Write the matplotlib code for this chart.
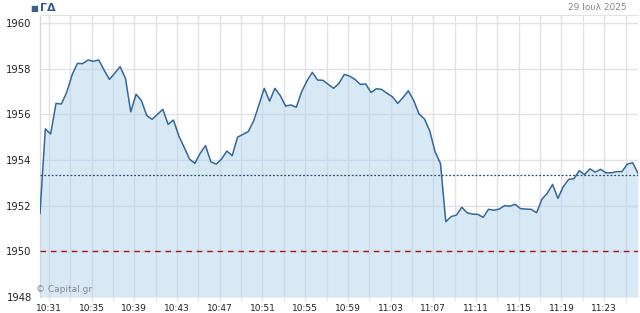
import numpy as np
import pandas as pd
import matplotlib
matplotlib.use("Agg")
import matplotlib.pyplot as plt
import matplotlib.dates as mdates

values = [
    1951.66, 1955.36, 1955.14, 1956.48, 1956.45, 1956.96, 1957.72, 1958.23, 1958.22, 1958.38,
    1958.32, 1958.38, 1957.94, 1957.53, 1957.80, 1958.09, 1957.58, 1956.11, 1956.88, 1956.60,
    1955.94, 1955.78, 1956.00, 1956.22, 1955.56, 1955.75, 1955.05, 1954.56, 1954.04, 1953.85,
    1954.29, 1954.63, 1953.92, 1953.82, 1954.04, 1954.39, 1954.19, 1955.00, 1955.12, 1955.24,
    1955.70, 1956.41, 1957.14, 1956.58, 1957.14, 1956.82, 1956.36, 1956.41, 1956.31, 1956.99,
    1957.46, 1957.84, 1957.50, 1957.49, 1957.31, 1957.14, 1957.36, 1957.75, 1957.67, 1957.53,
    1957.31, 1957.33, 1956.96, 1957.12, 1957.09, 1956.92, 1956.77, 1956.48, 1956.74, 1957.03,
    1956.60, 1956.01, 1955.80, 1955.27, 1954.36, 1953.85, 1951.30, 1951.52, 1951.59, 1951.93,
    1951.69, 1951.63, 1951.62, 1951.49, 1951.84, 1951.80, 1951.85, 1952.00, 1951.98, 1952.06,
    1951.87, 1951.85, 1951.84, 1951.69, 1952.28, 1952.54, 1952.93, 1952.32, 1952.83, 1953.15,
    1953.18, 1953.53, 1953.36, 1953.61, 1953.47, 1953.59, 1953.44, 1953.44, 1953.49, 1953.49,
    1953.82, 1953.88, 1953.42,
]
times = pd.date_range("2025-07-29 10:30:10", periods=len(values), freq="30s")

prev_close = 1953.33
support = 1950.0
title = "ΓΔ"
date_label = "29 Ιουλ 2025"
yticks = [1948, 1950, 1952, 1954, 1956, 1958, 1960]

fig = plt.figure(figsize=(6.4, 3.13), dpi=100)
ax = fig.add_axes([40 / 640, 1 - 297 / 313, 598 / 640, 282 / 313])

ax.fill_between(times, values, 1948, color=(174 / 255, 209 / 255, 238 / 255), alpha=0.48,
                lw=0, zorder=3)
ax.plot(times, values, color="#33679c", lw=1.1, zorder=4)
ax.axhline(prev_close, color="#2c4a6e", lw=0.9, ls=(0, (1.5, 1.5)), zorder=5)
ax.axhline(support, color="#b01010", lw=1.0, ls=(0, (4, 3.5)), zorder=5)

ax.set_xlim(times[0], times[-1])
ax.set_ylim(1948, 1960.35)
ax.set_yticks(yticks)
ax.set_yticklabels([str(v) for v in yticks])

ax.xaxis.set_major_locator(mdates.MinuteLocator(byminute=range(3, 60, 4)))
ax.xaxis.set_minor_locator(mdates.MinuteLocator(byminute=range(1, 60, 2)))
ax.xaxis.set_major_formatter(mdates.DateFormatter("%H:%M"))

ax.grid(True, which="both", axis="x", color="#e2e2e2", lw=1.0, zorder=1)
ax.grid(True, which="major", axis="y", color="#e2e2e2", lw=1.0, zorder=1)
ax.set_axisbelow(True)

for s in ["right", "bottom"]:
    ax.spines[s].set_visible(False)
ax.spines["top"].set_color("#e2e2e2")
ax.spines["left"].set_color("#d8d8d8")
ax.spines["left"].set_linewidth(1.0)

ax.tick_params(axis="y", length=0, pad=6, labelsize=7.2, labelcolor="#222222")
ax.tick_params(axis="x", which="both", length=3, color="#dddddd", labelsize=6.5,
               labelcolor="#222222", pad=2)

fig.text(30 / 640, 1 - 9 / 313, "■", color="#3a5f8f", fontsize=6, va="center", ha="left")
fig.text(40 / 640, 1 - 8 / 313, title, color="#2f5c96", fontsize=8, fontweight="bold",
         va="center", ha="left")
fig.text(627 / 640, 1 - 8 / 313, date_label, color="#888888", fontsize=6.5, va="center",
         ha="right")
fig.text(36 / 640, 1 - 289 / 313, "© Capital.gr", color="#8a8a8a", fontsize=6.5,
         va="center", ha="left")

fig.savefig("out.png", dpi=100)
